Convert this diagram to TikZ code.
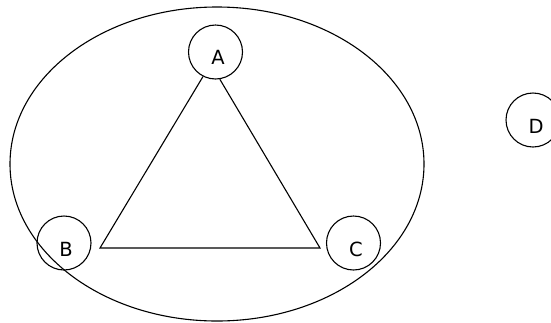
\documentclass[tikz,border=0pt]{standalone}
\usepackage{fontspec}
\setmainfont{DejaVu Sans}
\begin{document}
\begin{tikzpicture}[x=1pt,y=-1pt,
  vertex/.style={circle,draw,line width=1.1pt,minimum size=54pt,inner sep=0pt},
  lbl/.style={inner sep=0pt,font=\fontsize{19.5}{22}\selectfont},
  edge/.style={line width=1.1pt}]
\useasboundingbox (0,0) rectangle (551,322);
\clip (0,0) rectangle (551,322);
\draw[line width=1.1pt] (217,164) ellipse [x radius=207pt, y radius=157pt];
\node[vertex] (A) at (215.5,52) {};
\node[vertex] (B) at (64,243) {};
\node[vertex] (C) at (353.5,243) {};
\node[vertex] (D) at (533,120) {};
\node[lbl] (tA) at (218,57) {A};
\node[lbl] (tB) at (66,249) {B};
\node[lbl] (tC) at (356,249) {C};
\node[lbl] (tD) at (536,126) {D};
\coordinate (bL) at (100,248);
\coordinate (bR) at (320,248);
\draw[edge] (A.243) -- (bL) -- (bR) -- (A.279);
\end{tikzpicture}
\end{document}
